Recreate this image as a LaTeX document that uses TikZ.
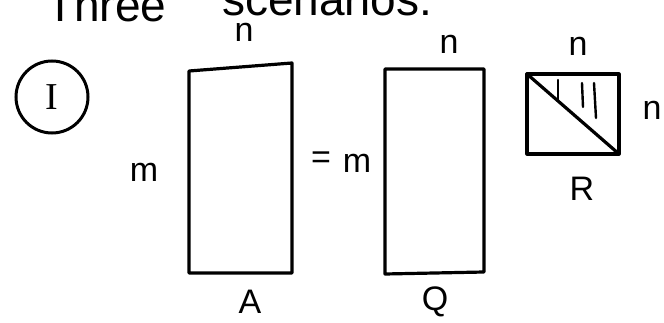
\documentclass[tikz,border=0pt]{standalone}
\usepackage{fontspec}
\setmainfont{Liberation Sans}
\newfontfamily\serifI{Liberation Serif}
\begin{document}
\begin{tikzpicture}[x=1pt,y=-1pt,
  stroke/.style={line width=3.2pt, line join=round, line cap=round},
  lbl/.style={font=\fontsize{34}{36}\selectfont, inner sep=0pt},
  title/.style={font=\fontsize{46}{48}\selectfont, inner sep=0pt, anchor=base west}]
\useasboundingbox (0,0) rectangle (664,323);
% title (cut off at top)
\node[title] (t1) at (46,22) {Three};
\node[title] (t2) at (222,16) {scenarios:};
% circled I
\node[draw, circle, line width=3pt, minimum size=72pt, inner sep=0pt,
      font=\serifI\fontsize{38}{40}\selectfont] (c1) at (52,97) {I};
% A
\coordinate (a1) at (189,71);
\coordinate (a2) at (292,63);
\coordinate (a3) at (292,273);
\coordinate (a4) at (189,273);
\draw[stroke] (a1) -- (a2) -- (a3) -- (a4) -- cycle;
\node[lbl] (an) at (244,32) {n};
\node[lbl] (am) at (144,172) {m};
\node[lbl] (aA) at (250,302) {A};
% = m
\node[lbl] (eq) at (321,160) {=};
\node[lbl] (qm) at (357,163) {m};
% Q
\coordinate (q1) at (385,69);
\coordinate (q2) at (484,69);
\coordinate (q3) at (484,272);
\coordinate (q4) at (385,274);
\draw[stroke] (q1) -- (q2) -- (q3) -- (q4) -- cycle;
\node[lbl] (qn) at (449,44) {n};
\node[lbl] (qQ) at (435,302) {Q};
% R
\coordinate (r1) at (527,74);
\coordinate (r2) at (619,74);
\coordinate (r3) at (619,154);
\coordinate (r4) at (527,154);
\draw[stroke] (r1) -- (r2) -- (r3) -- (r4) -- cycle;
\draw[stroke] (r1) -- (r3);
\coordinate (h1a) at (558,80); \coordinate (h1b) at (558,100);
\coordinate (h2a) at (582,83); \coordinate (h2b) at (583,107);
\coordinate (h3a) at (594,83); \coordinate (h3b) at (596,118);
\draw[line width=2.4pt, line cap=round] (h1a) -- (h1b);
\draw[line width=2.4pt, line cap=round] (h2a) -- (h2b);
\draw[line width=2.4pt, line cap=round] (h3a) -- (h3b);
\node[lbl] (rn) at (578,46) {n};
\node[lbl] (rn2) at (652,110) {n};
\node[lbl] (rR) at (582,189) {R};
\end{tikzpicture}
\end{document}
